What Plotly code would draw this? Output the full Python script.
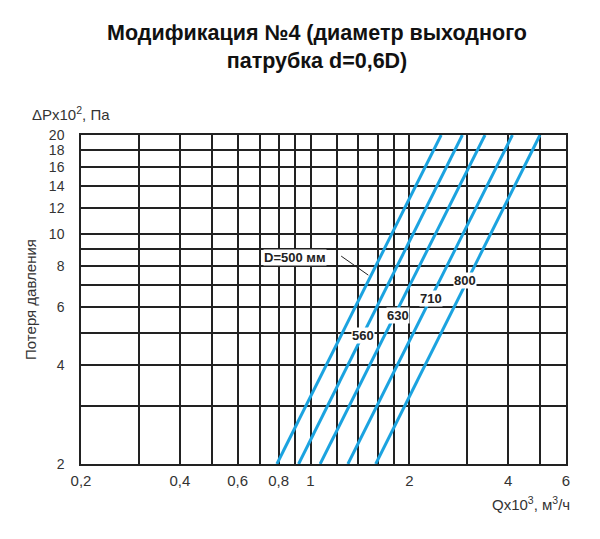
import math

import plotly.graph_objects as go

# Pressure loss curves: flow Q (x10^3 m3/h) at dP = 2 and dP = 20 (x10^2 Pa)
diameters = ["500", "560", "630", "710", "800"]
dp_ends = [2, 20]
q_500 = [0.79, 2.50]
q_560 = [0.92, 2.90]
q_630 = [1.07, 3.40]
q_710 = [1.30, 4.12]
q_800 = [1.58, 5.00]
q_series = [q_500, q_560, q_630, q_710, q_800]

# curve labels (text, Q, dP)
label_text = ["D=500 мм", "560", "630", "710", "800"]
label_x = [0.90, 1.45, 1.85, 2.32, 2.96]
label_y = [8.51, 4.93, 5.64, 6.39, 7.2]

# leader line for the D=500 label
leader_x = [1.24, 1.50]
leader_y = [8.57, 7.5]

# grid lines and tick labels
x_grid = [0.2, 0.3, 0.4, 0.5, 0.6, 0.7, 0.8, 0.9, 1, 1.2, 1.4, 1.6, 1.8, 2, 3, 4, 5, 6]
x_labels = {0.2: "0,2", 0.4: "0,4", 0.6: "0,6", 0.8: "0,8", 1: "1", 2: "2", 4: "4", 6: "6"}
y_grid = [2, 3, 4, 5, 6, 7, 8, 9, 10, 12, 14, 16, 18, 20]
y_labels = {2: "2", 4: "4", 6: "6", 8: "8", 10: "10", 12: "12", 14: "14", 16: "16", 18: "18", 20: "20"}

BLUE = "#1ba3e0"
FONT = "Liberation Sans, Arial, sans-serif"

fig = go.Figure()
for name, q in zip(diameters, q_series):
    fig.add_trace(go.Scatter(x=q, y=dp_ends, mode="lines", name=name,
                             line=dict(color=BLUE, width=3), hoverinfo="skip"))

fig.add_trace(go.Scatter(x=leader_x, y=leader_y, mode="lines",
                         line=dict(color="#222", width=1), hoverinfo="skip"))

# annotations on log axes take log10 positions
for t, x, y in zip(label_text, label_x, label_y):
    fig.add_annotation(x=math.log10(x), y=math.log10(y), xref="x", yref="y",
                       text=f"<b>{t}</b>", showarrow=False,
                       bgcolor="white", borderpad=0,
                       font=dict(size=13, color="#222", family=FONT))

fig.add_annotation(x=-0.105, y=1.064, xref="paper", yref="paper",
                   xanchor="left", yanchor="middle",
                   text="ΔPx10<sup>2</sup>, Па", showarrow=False,
                   font=dict(size=15, color="#333", family=FONT))
fig.add_annotation(x=1.012, y=-0.119, xref="paper", yref="paper",
                   xanchor="right", yanchor="middle",
                   text="Qx10<sup>3</sup>, м<sup>3</sup>/ч", showarrow=False,
                   font=dict(size=15, color="#333", family=FONT))

axis_style = dict(
    type="log", showgrid=True, gridcolor="#222", gridwidth=1.5,
    showline=True, linecolor="#222", linewidth=1.5, mirror=True,
    ticks="", zeroline=False,
)

# page has an 8px body margin, so the figure is sized to fit the window
fig.update_layout(
    width=592, height=531,
    margin=dict(l=73, r=34, t=127, b=75),
    paper_bgcolor="white", plot_bgcolor="white",
    showlegend=False,
    font=dict(family=FONT, color="#333", size=15),
    title=dict(text="<b>Модификация №4 (диаметр выходного<br>патрубка d=0,6D)</b>",
               x=0.522, xanchor="center", y=0.939, yanchor="top",
               font=dict(size=21.5, color="#111", family=FONT)),
    xaxis=dict(axis_style, range=[math.log10(0.2), math.log10(6)],
               ticklabelstandoff=2, tickfont=dict(size=15, color="#333"),
               tickvals=x_grid, ticktext=[x_labels.get(v, "") for v in x_grid]),
    yaxis=dict(axis_style, range=[math.log10(2), math.log10(20)],
               ticklabelstandoff=12, tickfont=dict(size=14, color="#333"),
               tickvals=y_grid, ticktext=[y_labels.get(v, "") for v in y_grid],
               title=dict(text="Потеря давления", standoff=9,
                          font=dict(size=15, color="#333"))),
)

fig.write_html("out.html")
